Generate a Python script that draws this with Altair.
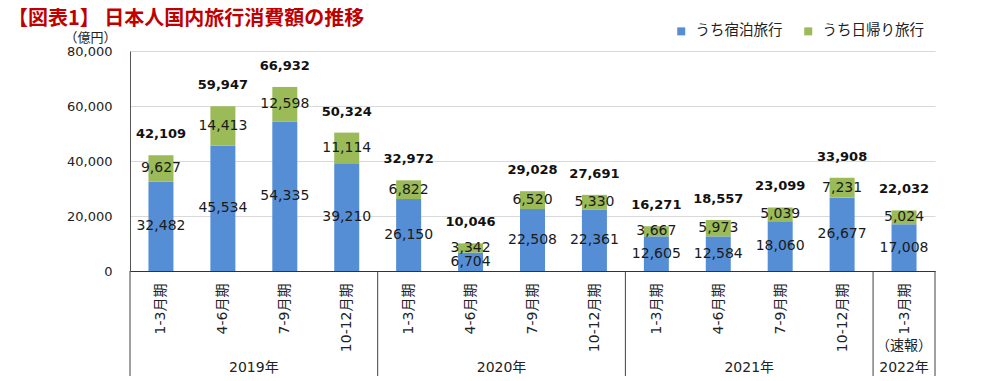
import json
import altair as alt
import pandas as pd

# ---- data ----
years = ["2019年"] * 4 + ["2020年"] * 4 + ["2021年"] * 4 + ["2022年"]
periods = ["1-3月期", "4-6月期", "7-9月期", "10-12月期"] * 3 + ["1-3月期"]
stay = [32482, 45534, 54335, 39210, 26150, 6704, 22508, 22361, 12605, 12584, 18060, 26677, 17008]
day = [9627, 14413, 12598, 11114, 6822, 3342, 6520, 5330, 3667, 5973, 5039, 7231, 5024]
total = [42109, 59947, 66932, 50324, 32972, 10046, 29028, 27691, 16271, 18557, 23099, 33908, 22032]
series_names = ["うち宿泊旅行", "うち日帰り旅行"]
series_colors = ["#558ed5", "#9bbb59"]
group_names = ["2019年", "2020年", "2021年", "2022年"]
group_sizes = [4, 4, 4, 1]
y_ticks = [0, 20000, 40000, 60000, 80000]
title_text = "【図表1】 日本人国内旅行消費額の推移"
unit_text = "（億円）"
note_text = "（速報）"

JP = "Noto Sans CJK JP"
NUM = "DejaVu Sans"
MIX = "DejaVu Sans, Noto Sans CJK JP"

n = len(periods)
centers = [i + 0.5 for i in range(n)]

rows = []
for c, s, d in zip(centers, stay, day):
    rows.append(dict(xc=c, series=series_names[0], value=s, ord=0, mid=s / 2))
    rows.append(dict(xc=c, series=series_names[1], value=d, ord=1, mid=s + d / 2))
long_df = pd.DataFrame(rows)
tot_df = pd.DataFrame(dict(xc=centers, total=total))

bounds = [0]
for size in group_sizes:
    bounds.append(bounds[-1] + size)
sep_df = pd.DataFrame(dict(xc=bounds))
grp_df = pd.DataFrame(dict(name=group_names,
                           xc=[(a + b) / 2 for a, b in zip(bounds[:-1], bounds[1:])]))
note_df = pd.DataFrame(dict(xc=[centers[-1]], t=[note_text]))
title_df = pd.DataFrame(dict(t=[title_text]))

# ---- scales / axes ----
xscale = alt.Scale(domain=[0, n], nice=False, zero=False, padding=0)
yscale = alt.Scale(domain=[0, 80000], nice=False)

x_axis = alt.Axis(title=None, values=centers,
                  labelExpr=json.dumps(periods, ensure_ascii=False) + "[floor(datum.value)]",
                  labelAngle=270, labelFontSize=14, labelFont=MIX, labelColor="#222",
                  labelPadding=12, ticks=False, domain=True, domainColor="#333", grid=False,
                  labelOverlap=False)
y_axis = alt.Axis(values=y_ticks, labelExpr="format(datum.value, ',')", labelFontSize=13,
                  labelFont=NUM, labelColor="#222", labelPadding=18, ticks=False,
                  domainColor="#555", gridColor="#d9d9d9", title=unit_text, titleAngle=0,
                  titleX=-40, titleY=-14, titleAlign="center", titleBaseline="middle",
                  titleFontSize=13, titleFontWeight="normal", titleFont=JP, titleColor="#222")

X = alt.X("xc:Q", scale=xscale, axis=x_axis)

bars = alt.Chart(long_df).mark_bar(size=25).encode(
    x=X,
    y=alt.Y("value:Q", stack="zero", scale=yscale, axis=y_axis),
    color=alt.Color("series:N", scale=alt.Scale(domain=series_names, range=series_colors),
                    legend=alt.Legend(title=None, orient="none", legendX=544, legendY=-27,
                                      direction="horizontal", symbolType="square",
                                      symbolSize=64, symbolStrokeWidth=0, labelFontSize=14.5,
                                      labelFont=JP, labelColor="#222", columnPadding=18,
                                      labelOffset=7)),
    order=alt.Order("ord:Q"),
)

inner = alt.Chart(long_df).mark_text(font=NUM, fontSize=14, color="#1a1a1a",
                                     baseline="middle").encode(
    x=X,
    y=alt.Y("mid:Q", scale=yscale, axis=y_axis),
    text=alt.Text("value:Q", format=","),
)

tots = alt.Chart(tot_df).mark_text(font=NUM, fontSize=13, fontWeight="bold", color="#111",
                                   baseline="middle", dy=-21).encode(
    x=X,
    y=alt.Y("total:Q", scale=yscale, axis=y_axis),
    text=alt.Text("total:Q", format=","),
)

seps = alt.Chart(sep_df).mark_rule(color="#404040", strokeWidth=1).encode(
    x=X,
    y=alt.value(220),
    y2=alt.value(345),
)

grp = alt.Chart(grp_df).mark_text(font=MIX, fontSize=14, color="#222",
                                  baseline="middle").encode(
    x=X,
    y=alt.value(317),
    text="name:N",
)

note = alt.Chart(note_df).mark_text(font=JP, fontSize=14, color="#222",
                                    baseline="middle").encode(
    x=X,
    y=alt.value(295),
    text="t:N",
)

title_mark = alt.Chart(title_df).mark_text(font=JP, fontSize=20, fontWeight="bold",
                                           color="#c00000", align="left",
                                           baseline="middle").encode(
    x=alt.value(-122),
    y=alt.value(-32),
    text="t:N",
)

chart = alt.layer(bars, inner, tots, seps, grp, note, title_mark).properties(
    width=805, height=220,
    autosize=alt.AutoSizeParams(type="none"),
    padding={"left": 122, "top": 43, "right": 59, "bottom": 105},
).configure_view(stroke=None)

chart.save("out.html", embed_options={"renderer": "svg", "actions": False})
